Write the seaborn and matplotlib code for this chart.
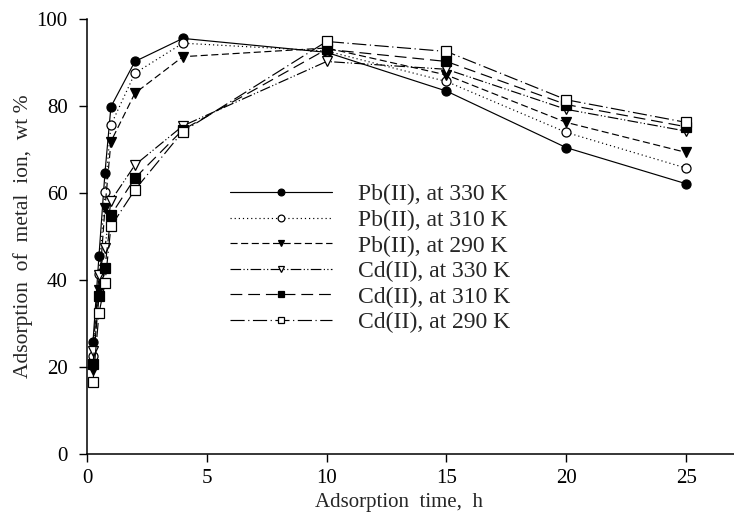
import pandas as pd
import seaborn as sns
import matplotlib
matplotlib.use('Agg')
import matplotlib.pyplot as plt

# Adsorption time (h)
time_h = [0.25, 0.5, 0.75, 1, 2, 4, 10, 15, 20, 25]

# Adsorption of metal ion (wt %)
pb_330 = [25.7, 45.5, 64.6, 79.8, 90.2, 95.5, 92.3, 83.4, 70.4, 62.1]
pb_310 = [22.4, 41.3, 60.2, 75.6, 87.5, 94.4, 92.6, 85.6, 73.9, 65.7]
pb_290 = [19.3, 37.7, 56.5, 71.8, 82.9, 91.3, 93.3, 87.1, 76.2, 69.3]
cd_330 = [23.7, 41.1, 47.3, 58.2, 66.4, 75.4, 90.2, 88.4, 79.2, 74.2]
cd_310 = [20.6, 36.3, 42.7, 54.9, 63.4, 74.5, 93.0, 90.2, 80.3, 75.2]
cd_290 = [16.6, 32.3, 39.2, 52.3, 60.7, 74.1, 94.8, 92.5, 81.4, 76.2]

labels = ['Pb(II), at 330 K', 'Pb(II), at 310 K', 'Pb(II), at 290 K',
          'Cd(II), at 330 K', 'Cd(II), at 310 K', 'Cd(II), at 290 K']
series = [pb_330, pb_310, pb_290, cd_330, cd_310, cd_290]

# line style / marker / filled marker for each series
styles = [
    ('-', 'o', True),
    ((0, (1, 2.5)), 'o', False),
    ((0, (6, 3)), 'v', True),
    ((0, (9, 2, 1, 2, 1, 2)), 'v', False),
    ((0, (10, 5)), 's', True),
    ((0, (12, 3, 1, 3)), 's', False),
]

sns.set_style('ticks')
plt.rcParams['font.family'] = ['Liberation Serif', 'DejaVu Serif']

fig = plt.figure(figsize=(7.34, 5.23), dpi=100)
ax = fig.add_axes([0.1185, 0.132, 0.8815, 0.832])

for lab, vals, (ls, mk, filled) in zip(labels, series, styles):
    df = pd.DataFrame({'time': time_h, 'ads': vals})
    sns.lineplot(data=df, x='time', y='ads', ax=ax, color='black',
                 linestyle=ls, linewidth=0.85, marker=mk, markersize=6.5,
                 markerfacecolor='black' if filled else 'white',
                 markeredgecolor='black', markeredgewidth=0.9,
                 label=lab, clip_on=False)

ax.set_xlim(0, 27)
ax.set_ylim(0, 100)
ax.set_xticks([0, 5, 10, 15, 20, 25])
ax.set_yticks([0, 20, 40, 60, 80, 100])
ax.tick_params(direction='out', length=6, width=1, labelsize=15, colors='black')
ax.tick_params(axis='y', pad=8)
ax.tick_params(axis='x', pad=5)
for s in ['top', 'right']:
    ax.spines[s].set_visible(False)
for s in ['left', 'bottom']:
    ax.spines[s].set_linewidth(1.1)
    ax.spines[s].set_color('black')

ax.set_xlabel('Adsorption  time,  h', fontsize=15)
ax.set_ylabel('Adsorption  of  metal  ion,  wt %', fontsize=15.5)
ax.xaxis.set_label_coords(0.483, -0.09)
ax.yaxis.set_label_coords(-0.084, 0.50)

ax.legend(loc='upper left', bbox_to_anchor=(230 / 734, 1 - 184 / 523),
          bbox_transform=fig.transFigure, frameon=False, fontsize=17,
          handlelength=4.3, handletextpad=1.1, labelspacing=0.17,
          numpoints=1, markerscale=0.75, borderpad=0, borderaxespad=0)

plt.savefig('out.png', dpi=100)
